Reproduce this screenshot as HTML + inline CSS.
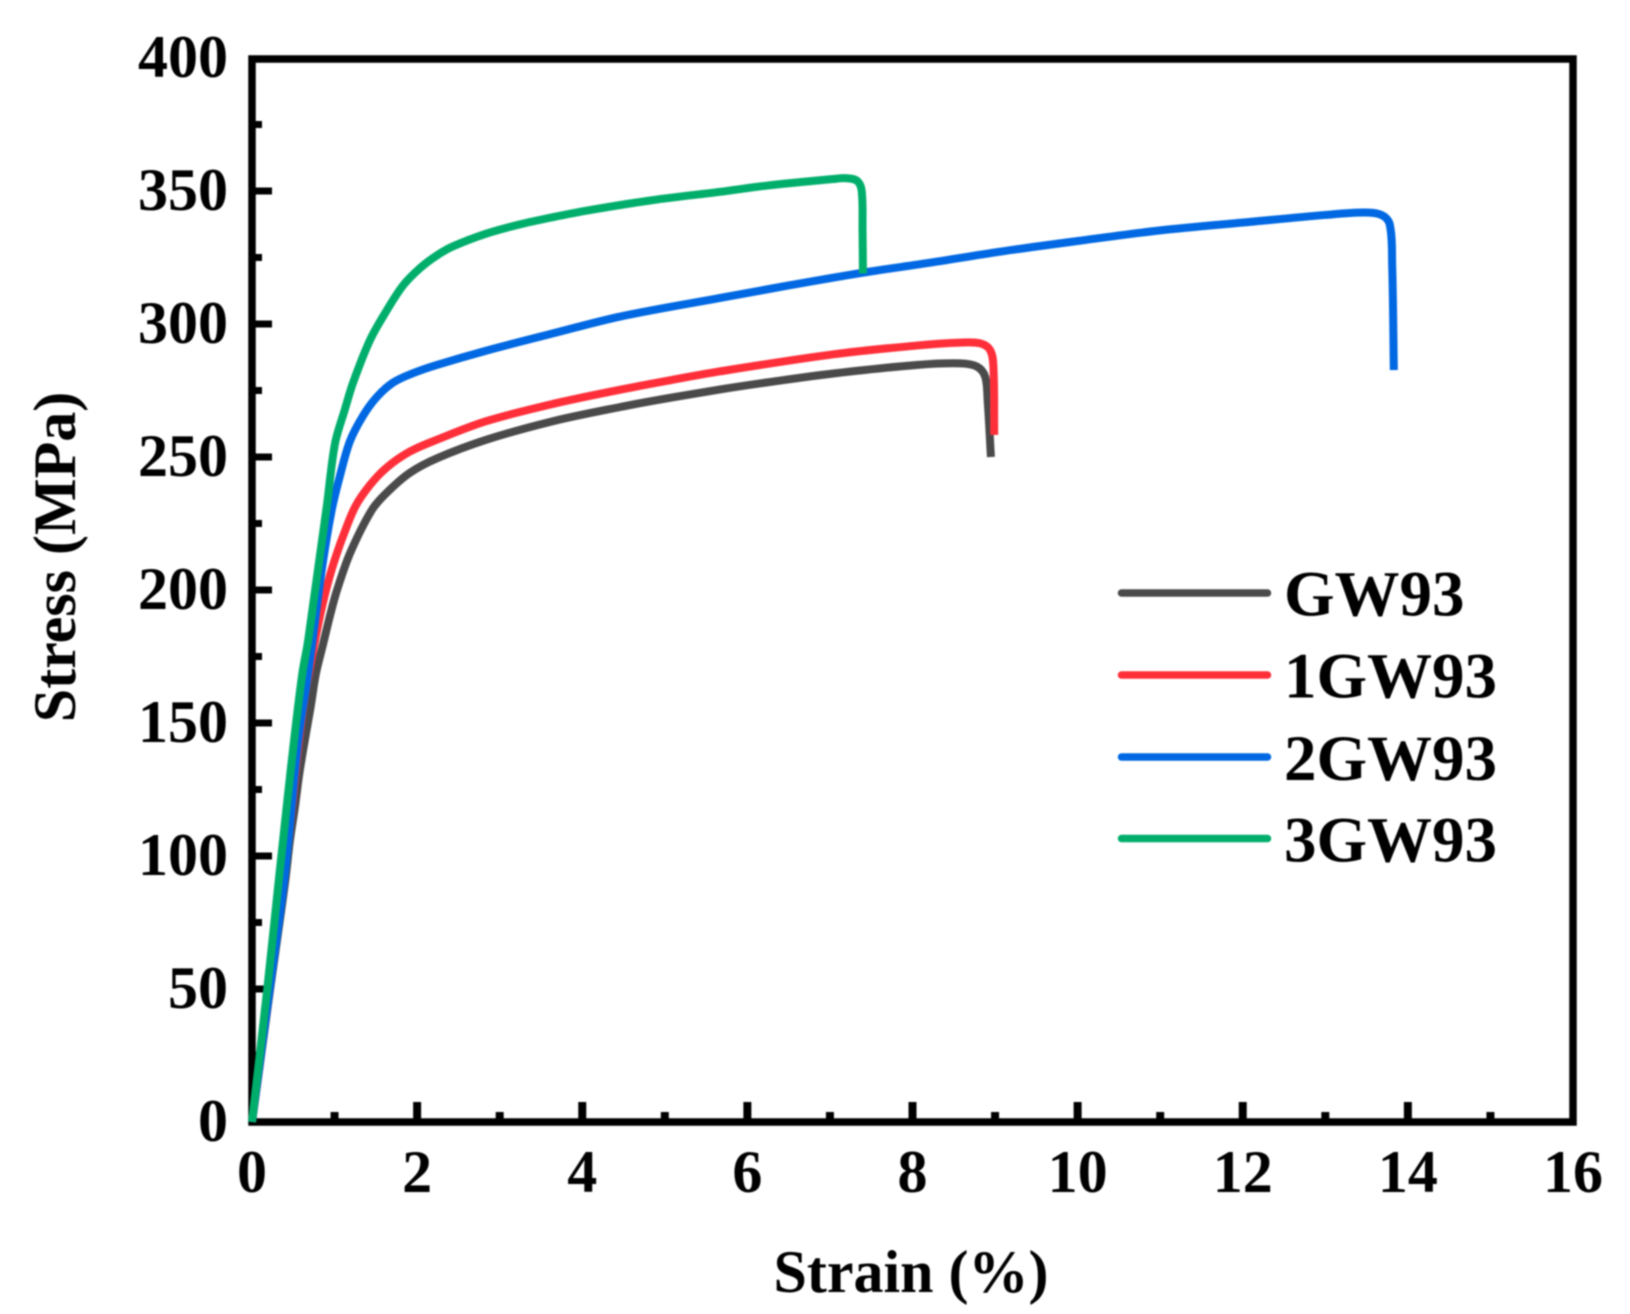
<!DOCTYPE html>
<html lang="en">
<head>
<meta charset="utf-8">
<title>Stress-strain curves</title>
<style>
html,body{margin:0;padding:0;background:#fff;width:1630px;height:1314px;overflow:hidden}
svg{display:block;filter:blur(0.7px)}
text{font-family:"Liberation Serif",serif;font-weight:bold;fill:#000}
</style>
</head>
<body>
<svg id="chart" width="1630" height="1314" viewBox="0 0 1630 1314" xmlns="http://www.w3.org/2000/svg">
  <g id="frame-layer"></g>
  <g id="series-layer"></g>
  <text x="911" y="1292" font-size="60" text-anchor="middle">Strain (%)</text>
  <text transform="translate(75,557) rotate(-90)" font-size="60" text-anchor="middle">Stress (MPa)</text>
  <g id="legend-layer"></g>
</svg>
<script>
const xMajorTicks = [0, 2, 4, 6, 8, 10, 12, 14, 16];
const xMinorTicks = [1, 3, 5, 7, 9, 11, 13, 15];
const yMajorTicks = [0, 50, 100, 150, 200, 250, 300, 350, 400];
const yMinorTicks = [25, 75, 125, 175, 225, 275, 325, 375];

const seriesNames = ['GW93', '1GW93', '2GW93', '3GW93'];

const strainGW93 = [0, 0.22, 0.40, 0.46, 0.52, 0.573, 0.64, 0.71, 0.775, 0.856, 0.95, 1.03, 1.19, 1.45, 1.63, 1.91, 2.24, 2.84, 3.65, 4.46, 5.02, 5.67, 6.23, 7.04, 8.05, 8.58, 8.78, 8.88, 8.91, 8.95];
const stressGW93 = [0, 50, 90, 106, 118.5, 131, 143.6, 156, 168.7, 179, 191, 200, 214, 230, 236.5, 244, 249.5, 256.5, 263.5, 268.8, 272, 275.4, 278, 281.4, 284.6, 285.2, 284, 280.2, 271.4, 250];

const strain1GW93 = [0, 0.215, 0.42, 0.57, 0.65, 0.69, 0.763, 0.85, 0.94, 1.02, 1.10, 1.25, 1.43, 1.63, 1.91, 2.24, 2.84, 3.65, 4.46, 5.02, 5.67, 7.04, 8.05, 8.58, 8.82, 8.94, 8.98, 8.99];
const stress1GW93 = [0, 50, 100, 143.6, 162, 168.7, 181, 194, 205, 213, 220, 231.3, 239.5, 246, 252, 256.5, 263.5, 270, 275.3, 278.6, 282.2, 288.6, 291.9, 293, 292.7, 290.2, 284, 258.3];

const strain2GW93 = [0, 0.215, 0.40, 0.56, 0.68, 0.85, 0.965, 1.066, 1.187, 1.345, 1.51, 1.71, 1.95, 2.24, 2.84, 3.65, 4.46, 5.67, 6.50, 7.40, 8.20, 9.06, 10.0, 11.0, 12.09, 13.0, 13.46, 13.68, 13.78, 13.81, 13.83];
const stress2GW93 = [0, 50, 93.6, 143.6, 168.7, 208.6, 230, 243, 256, 265.5, 272.5, 278, 281.5, 284.6, 290, 296.5, 302.8, 309.8, 314.5, 319.3, 323, 327.2, 331.2, 335.2, 338.4, 341, 341.9, 341, 337.5, 322, 282.7];

const strain3GW93 = [0, 0.185, 0.325, 0.42, 0.51, 0.61, 0.68, 0.905, 1.005, 1.126, 1.225, 1.43, 1.63, 1.83, 2.035, 2.24, 2.435, 2.84, 3.25, 3.65, 4.05, 4.86, 5.67, 6.23, 7.04, 7.20, 7.33, 7.385, 7.395, 7.40];
const stress3GW93 = [0, 50, 91, 118.5, 143.6, 168.7, 181, 231.3, 255, 268, 278, 294, 305, 314.5, 321, 325.8, 329.2, 334, 337.5, 340.2, 342.6, 346.6, 349.7, 352, 354.5, 354.8, 353.8, 350, 335, 319];

const svgNS = 'http://www.w3.org/2000/svg';
const plotLeft = 252, plotRight = 1573, plotTop = 58, plotBottom = 1122;
function xScale(v) { return plotLeft + (v - 0) / 16 * (plotRight - plotLeft); }
function yScale(v) { return plotBottom - (v - 0) / 400 * (plotBottom - plotTop); }

function unit(a, b) {
  const dx = b[0] - a[0], dy = b[1] - a[1], n = Math.hypot(dx, dy) || 1;
  return [dx / n, dy / n];
}

function makePath(xs, ys) {
  const p = xs.map(function (x, i) { return [xScale(x), yScale(ys[i])]; });
  let d = 'M' + p[0][0].toFixed(2) + ' ' + p[0][1].toFixed(2);
  for (let i = 0; i < p.length - 1; i++) {
    const a = p[Math.max(i - 1, 0)], b = p[i], c = p[i + 1], e = p[Math.min(i + 2, p.length - 1)];
    const seg = Math.hypot(c[0] - b[0], c[1] - b[1]) / 3;
    const t1 = unit(a, c), t2 = unit(b, e);
    const c1x = b[0] + t1[0] * seg, c1y = b[1] + t1[1] * seg;
    const c2x = c[0] - t2[0] * seg, c2y = c[1] - t2[1] * seg;
    d += 'C' + c1x.toFixed(2) + ' ' + c1y.toFixed(2) + ' ' + c2x.toFixed(2) + ' ' + c2y.toFixed(2) + ' ' + c[0].toFixed(2) + ' ' + c[1].toFixed(2);
  }
  return d;
}

function addLine(parent, x1, y1, x2, y2, w, color) {
  const l = document.createElementNS(svgNS, 'line');
  l.setAttribute('x1', x1);
  l.setAttribute('y1', y1);
  l.setAttribute('x2', x2);
  l.setAttribute('y2', y2);
  l.setAttribute('stroke', color);
  l.setAttribute('stroke-width', w);
  parent.appendChild(l);
  return l;
}

function addText(parent, x, y, size, anchor, str) {
  const t = document.createElementNS(svgNS, 'text');
  t.setAttribute('x', x);
  t.setAttribute('y', y);
  t.setAttribute('font-size', size);
  t.setAttribute('text-anchor', anchor);
  t.textContent = str;
  parent.appendChild(t);
  return t;
}

const seriesLayer = document.getElementById('series-layer');
const frameLayer = document.getElementById('frame-layer');
const legendLayer = document.getElementById('legend-layer');

const seriesColors = ['#4a4a4a', '#ff2f3a', '#0068e2', '#00ae6b'];
const seriesXs = [strainGW93, strain1GW93, strain2GW93, strain3GW93];
const seriesYs = [stressGW93, stress1GW93, stress2GW93, stress3GW93];

const frame = document.createElementNS(svgNS, 'rect');
frame.setAttribute('x', plotLeft);
frame.setAttribute('y', plotTop + 1);
frame.setAttribute('width', plotRight - plotLeft);
frame.setAttribute('height', plotBottom - plotTop - 1);
frame.setAttribute('fill', 'none');
frame.setAttribute('stroke', '#000');
frame.setAttribute('stroke-width', '7.5');


frameLayer.appendChild(frame);

xMajorTicks.forEach(function (v) {
  if (v > 0 && v < 16) {
    const tick = addLine(frameLayer, xScale(v), plotBottom, xScale(v), 1102, 8, '#000');
    
    
  }
  const label = addText(frameLayer, xScale(v), 1192, 60, 'middle', String(v));
  
  
});

xMinorTicks.forEach(function (v) {
  const tick = addLine(frameLayer, xScale(v), plotBottom, xScale(v), 1112, 8, '#000');
  
  
});

yMajorTicks.forEach(function (v) {
  if (v > 0 && v < 400) {
    const tick = addLine(frameLayer, plotLeft, yScale(v), 272, yScale(v), 7, '#000');
    
    
  }
  const label = addText(frameLayer, 228, yScale(v) + 19, 60, 'end', String(v));
  
  
});

yMinorTicks.forEach(function (v) {
  const tick = addLine(frameLayer, plotLeft, yScale(v), 262, yScale(v), 7, '#000');
  
  
});

seriesNames.forEach(function (name, i) {
  const path = document.createElementNS(svgNS, 'path');
  path.setAttribute('d', makePath(seriesXs[i], seriesYs[i]));
  path.setAttribute('fill', 'none');
  path.setAttribute('stroke', seriesColors[i]);
  path.setAttribute('stroke-width', '8');
  path.setAttribute('stroke-linejoin', 'round');
  
  
  seriesLayer.appendChild(path);
});

const legendLineY = [593, 675, 757, 838.5];
const legendTextY = [615.6, 697.7, 780, 861.7];
seriesNames.forEach(function (name, i) {
  const swatch = addLine(legendLayer, 1121.5, legendLineY[i], 1267.5, legendLineY[i], 7.5, seriesColors[i]);
  swatch.setAttribute('stroke-linecap', 'round');
  
  
  const label = addText(legendLayer, 1284, legendTextY[i], 65, 'start', name);
  
  
});
</script>
</body>
</html>
